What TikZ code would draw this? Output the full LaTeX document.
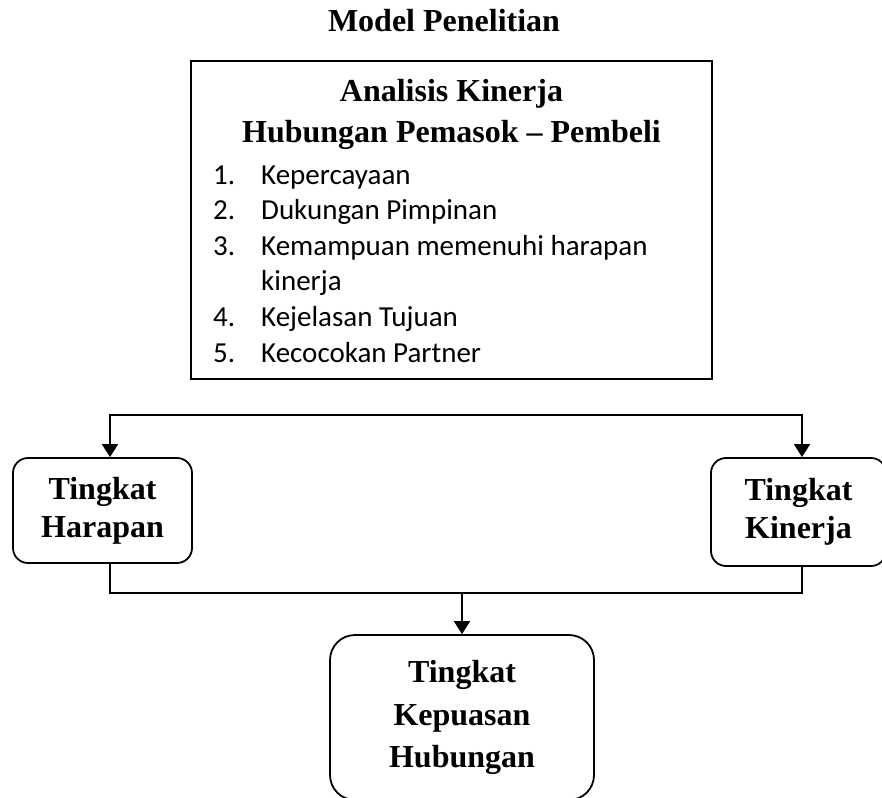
\documentclass[tikz,border=0pt]{standalone}
\usepackage{fontspec}
\setmainfont{Liberation Serif}
\newfontfamily\listfont{Carlito}
\usepackage{tikz}
\usetikzlibrary{positioning}
\usetikzlibrary{arrows.meta}

\begin{document}
\begin{tikzpicture}[x=1pt,y=-1pt,
    bold text/.style={font=\fontsize{32}{38}\selectfont\bfseries},
    tbox/.style={draw,line width=1.8pt,rounded corners=15pt,align=center,inner sep=0pt,bold text},
    conn/.style={line width=1.8pt},
    arr/.style={conn,-{Triangle[length=13pt,width=16pt]}}]
    \useasboundingbox (0,0) rectangle (882,797);
    \clip (0,0) rectangle (882,797);
    \node[bold text,anchor=base] (judul) at (444,32) {Model Penelitian};
    \node[draw,line width=2.4pt,minimum width=521pt,minimum height=318pt] (analisis) at (451.5,220) {};
    \node[anchor=base,inner sep=0pt,font=\fontsize{32}{40}\selectfont\bfseries] (analisis head) at (451.5,102) %
      {\begin{tabular}[t]{@{}c@{}}Analisis Kinerja\\Hubungan Pemasok -- Pembeli\end{tabular}};
    \node[anchor=base west,inner sep=0pt,font=\listfont\fontsize{29}{35.6}\selectfont] (analisis list) at (213,184) %
      {\begin{tabular}[t]{@{}p{48pt}@{}l@{}}
        1.&Kepercayaan\\
        2.&Dukungan Pimpinan\\
        3.&Kemampuan memenuhi harapan\\
          &kinerja\\
        4.&Kejelasan Tujuan\\
        5.&Kecocokan Partner
      \end{tabular}};
    \node[tbox,minimum width=179pt,minimum height=105pt] (harapan) at (102.5,510.5) {Tingkat\\Harapan};
    \node[tbox,minimum width=175pt,minimum height=108pt] (kinerja) at (798.5,512) {Tingkat\\Kinerja};
    \node[tbox,rounded corners=25pt,font=\fontsize{32}{42.5}\selectfont\bfseries,minimum width=264pt,minimum height=165pt] (kepuasan) at (462,717.5) %
      {Tingkat\\Kepuasan\\Hubungan};
    \coordinate (top left) at (110,415);
    \coordinate (top right) at (802,415);
    \coordinate (bottom mid) at (462,593);
    \draw[conn,{Triangle[length=13pt,width=16pt]}-{Triangle[length=13pt,width=16pt]}] %
      (top left |- harapan.north) -- (top left) -- (top right) -- (top right |- kinerja.north);
    \draw[conn] (top left |- harapan.south) |- (bottom mid) -| (top right |- kinerja.south);
    \draw[arr] (bottom mid) -- (kepuasan.north);
\end{tikzpicture}
\end{document}
